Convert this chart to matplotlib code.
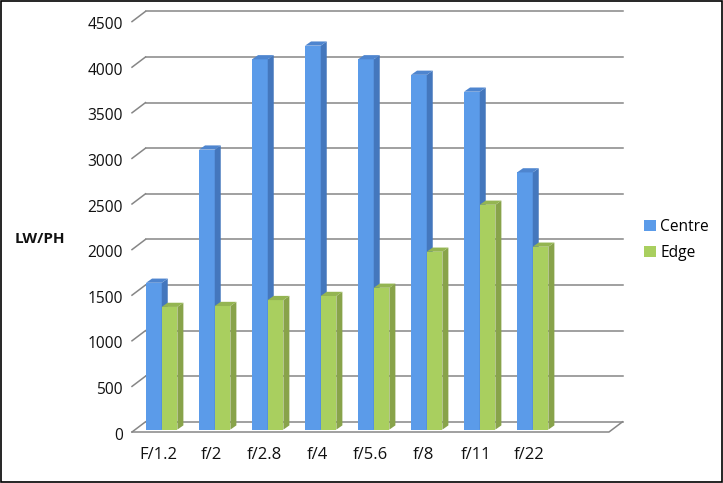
import numpy as np
from matplotlib import pyplot as plt
from matplotlib.patches import Polygon, Rectangle
from matplotlib.transforms import ScaledTranslation

# values
stops = ['F/1.2', 'f/2', 'f/2.8', 'f/4', 'f/5.6', 'f/8', 'f/11', 'f/22']
centre = [1610, 3070, 4060, 4210, 4060, 3890, 3705, 2820]
edge = [1345, 1355, 1420, 1465, 1555, 1950, 2465, 2005]
y_ticks = [0, 500, 1000, 1500, 2000, 2500, 3000, 3500, 4000, 4500]

W, H = 723, 483
PX_X = 53.0      # pixels per category slot
PX_Y = 0.0912    # pixels per LW/PH unit
GRID = '#868686'

plt.rcParams['font.family'] = ['Open Sans', 'DejaVu Sans']

fig = plt.figure(figsize=(W / 100, H / 100), dpi=100)
left, right, bottom, top = 132, 622, 432, 11.3
ax = fig.add_axes([left / W, 1 - bottom / H, (right - left) / W, (bottom - top) / H])
ax.set_xlim(0, (right - left) / PX_X)
ax.set_ylim(0, (bottom - top) / PX_Y)
for s in ax.spines.values():
    s.set_visible(False)

# depth of the floor and of the bars, in data units
wall_dx, wall_dy = 13.5 / PX_X, 10.2 / PX_Y
bar_dx, bar_dy = 6.0 / PX_X, 4.2 / PX_Y
base = 2.4 / PX_Y
n_slots = 9


def draw_bars(x, values, front, side, cap, label):
    w = 15.7 / PX_X
    ax.bar(x, values, w, bottom=base, align='edge', color=front, label=label, zorder=3)
    for xi, v in zip(x, values):
        t = v + base
        ax.add_patch(Polygon([(xi + w, base), (xi + w + bar_dx, base + bar_dy),
                              (xi + w + bar_dx, t + bar_dy), (xi + w, t)],
                             fc=side, ec='none', zorder=3))
        ax.add_patch(Polygon([(xi, t), (xi + w, t), (xi + w + bar_dx, t + bar_dy),
                              (xi + bar_dx, t + bar_dy)],
                             fc=cap, ec='none', zorder=3))


# back wall gridlines and slanted ticks on the left side
for v in y_ticks:
    ax.plot([wall_dx, n_slots + wall_dx], [v + wall_dy, v + wall_dy], color=GRID, lw=1.1,
            clip_on=False, zorder=1)
    ax.plot([0, wall_dx], [v, v + wall_dy], color=GRID, lw=1.1, clip_on=False, zorder=1)

# floor
ax.plot([0, n_slots, n_slots + wall_dx], [0, 0, wall_dy], color=GRID, lw=1.1,
        clip_on=False, zorder=2)

pos = np.arange(len(stops))
draw_bars(pos + 0.265, centre, '#5B9BE9', '#4477BD', '#4E85CF', 'Centre')
draw_bars(pos + 0.56, edge, '#A9CF5F', '#88A34A', '#94B552', 'Edge')

ax.set_xticks(pos + 0.49, stops)
ax.set_yticks(y_ticks)
ax.tick_params(axis='both', length=0, labelsize=11.2, colors='#111111')
ax.tick_params(axis='x', pad=11, labelsize=12)
ax.tick_params(axis='y', pad=6.5)

# y labels sit a little lower than their gridlines
nudge = ScaledTranslation(0, -1.5 / 100, fig.dpi_scale_trans)
for lab in ax.get_yticklabels():
    lab.set_transform(lab.get_transform() + nudge)

fig.text(40 / W, 1 - 239 / H, 'LW/PH', fontsize=11, fontweight='bold', ha='center',
         va='center', color='#111111')

handles, labels = ax.get_legend_handles_labels()
fig.legend(handles, labels, loc='center left', bbox_to_anchor=(632 / W, 1 - 240 / H),
           frameon=False, fontsize=11.2, handlelength=0.72, handleheight=0.72,
           handletextpad=0.28, labelspacing=0.65, borderpad=0.3)

# thin black frame round the picture, the image runs a bit past it right and below
fig.add_artist(Rectangle((0.6 / W, 1 - 481.7 / H), 721 / W, 481 / H, transform=fig.transFigure,
                         fill=False, ec='black', lw=1.2))

fig.savefig('out.png', dpi=100)
